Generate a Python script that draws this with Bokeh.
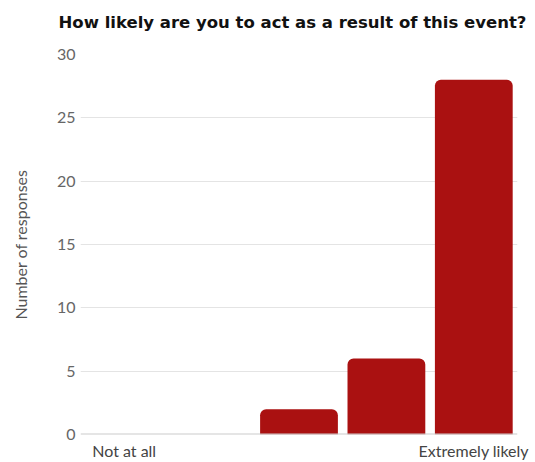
from bokeh.plotting import figure
from bokeh.models import Range1d, FixedTicker, Span, ColumnDataSource, Title
from bokeh.embed import file_html
from bokeh.resources import INLINE

categories = [1, 2, 3, 4, 5]
responses = [0, 0, 2, 6, 28]
tick_labels = {1: "Not at all", 5: "Extremely likely"}
y_ticks = [0, 5, 10, 15, 20, 25, 30]

src = ColumnDataSource(dict(cat=categories, val=responses))

p = figure(width=535, height=462, output_backend="svg", toolbar_location=None,
           x_range=Range1d(0.5, 5.5),
           y_range=Range1d(0, 30),
           min_border_left=80, min_border_right=18, min_border_top=54, min_border_bottom=26)

p.vbar(x="cat", top="val", width=0.89, source=src, fill_color="#aa1111",
       line_color=None, border_radius=(6, 6, 0, 0))

p.title.text = "How likely are you to act as a result of this event?"
p.title.align = "left"
p.title.text_font = "DejaVu Sans"
p.title.text_font_style = "bold"
p.title.text_font_size = "16.5px"
p.title.text_color = "#111111"
p.title.offset = -22

spacer = Title(text=" ", text_font_size="14px", standoff=0)
p.add_layout(spacer, "above")

p.outline_line_color = None
p.xgrid.grid_line_color = None
p.ygrid.grid_line_color = "#e4e4e4"
p.ygrid.grid_line_width = 1

base = Span(location=0, dimension="width", line_color="#cccccc", line_width=2)
p.add_layout(base)

p.yaxis.ticker = FixedTicker(ticks=y_ticks)
p.yaxis.axis_line_color = None
p.yaxis.major_tick_line_color = None
p.yaxis.minor_tick_line_color = None
p.yaxis.major_tick_out = 0
p.yaxis.major_tick_in = 0
p.yaxis.major_label_text_font = "Lato"
p.yaxis.major_label_text_font_size = "16px"
p.yaxis.major_label_text_color = "#666666"
p.yaxis.major_label_standoff = 5
p.yaxis.axis_label = "Number of responses"
p.yaxis.axis_label_text_font = "Lato"
p.yaxis.axis_label_text_font_style = "normal"
p.yaxis.axis_label_text_font_size = "16px"
p.yaxis.axis_label_text_color = "#555555"
p.yaxis.axis_label_standoff = 24

p.xaxis.ticker = FixedTicker(ticks=[1, 5])
p.xaxis.axis_line_color = None
p.xaxis.major_tick_line_color = None
p.xaxis.minor_tick_line_color = None
p.xaxis.major_tick_out = 0
p.xaxis.major_tick_in = 0
p.xaxis.major_label_overrides = tick_labels
p.xaxis.major_label_text_font = "Lato"
p.xaxis.major_label_text_font_size = "16px"
p.xaxis.major_label_text_color = "#444444"
p.xaxis.major_label_standoff = 6

open("out.html", "w").write(file_html(p, INLINE))
